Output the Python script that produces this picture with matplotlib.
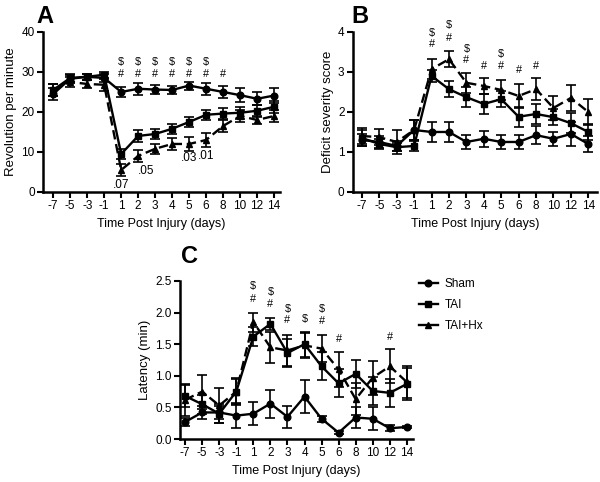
import numpy as np
import matplotlib.pyplot as plt
from matplotlib.lines import Line2D

plt.rcParams['font.family'] = ['Liberation Sans', 'DejaVu Sans']

# x axis categories
days = ["-7", "-5", "-3", "-1", "1", "2", "3", "4", "5", "6", "8", "10", "12", "14"]

# A: rotarod
a_sham = [24.5, 28.3, 28.8, 28.5, 25.0, 25.8, 25.6, 25.5, 26.6, 25.8, 25.0, 24.2, 23.3, 24.1]
a_sham_err = [1.5, 1.0, 0.8, 1.0, 1.2, 1.5, 1.2, 1.0, 1.0, 1.5, 1.5, 1.8, 1.6, 1.8]
a_tai = [25.5, 28.5, 28.8, 29.3, 9.5, 14.0, 14.5, 15.8, 17.5, 19.3, 19.6, 19.8, 20.3, 21.3]
a_tai_err = [1.5, 1.0, 0.8, 0.8, 1.2, 1.5, 1.3, 1.3, 1.3, 1.2, 1.3, 1.5, 1.5, 1.5]
a_hx = [25.5, 27.5, 27.0, 26.8, 5.5, 9.0, 10.8, 12.0, 12.0, 13.0, 16.5, 19.0, 18.0, 19.0]
a_hx_err = [1.5, 1.2, 1.0, 1.5, 1.5, 1.5, 1.3, 1.5, 1.8, 1.8, 1.5, 1.5, 1.0, 1.5]
a_dollar = [4, 5, 6, 7, 8, 9]
a_hash = [4, 5, 6, 7, 8, 9, 10]
a_pvals = [(4, ".07", 1.8, 0.0), (5, ".05", 5.3, 0.45), (8, ".03", 8.5, 0.0), (9, ".01", 9.0, 0.0)]

# B: deficit severity
b_sham = [1.3, 1.25, 1.15, 1.55, 1.5, 1.5, 1.25, 1.33, 1.25, 1.25, 1.42, 1.33, 1.45, 1.2]
b_sham_err = [0.15, 0.15, 0.12, 0.25, 0.25, 0.25, 0.18, 0.2, 0.18, 0.18, 0.22, 0.18, 0.3, 0.2]
b_tai = [1.35, 1.2, 1.12, 1.15, 2.9, 2.57, 2.37, 2.2, 2.32, 1.88, 1.95, 1.87, 1.72, 1.5]
b_tai_err = [0.2, 0.12, 0.1, 0.12, 0.15, 0.2, 0.25, 0.25, 0.2, 0.25, 0.25, 0.2, 0.25, 0.2]
b_hx = [1.4, 1.37, 1.25, 1.55, 3.07, 3.32, 2.73, 2.65, 2.55, 2.4, 2.57, 2.1, 2.35, 2.0]
b_hx_err = [0.2, 0.2, 0.3, 0.25, 0.25, 0.2, 0.25, 0.2, 0.25, 0.3, 0.27, 0.3, 0.33, 0.33]
b_marks = [(4, 3.98, 3.7), (5, 4.17, 3.85), (6, 3.58, 3.3), (7, None, 3.15),
           (8, 3.45, 3.15), (9, None, 3.05), (10, None, 3.15)]

# C: latency
c_sham = [0.27, 0.42, 0.42, 0.37, 0.40, 0.56, 0.35, 0.67, 0.32, 0.10, 0.34, 0.32, 0.17, 0.19]
c_sham_err = [0.06, 0.1, 0.1, 0.2, 0.18, 0.22, 0.17, 0.26, 0.05, 0.02, 0.17, 0.18, 0.05, 0.02]
c_tai = [0.68, 0.55, 0.40, 0.75, 1.62, 1.82, 1.36, 1.50, 1.15, 0.88, 1.03, 0.76, 0.73, 0.87]
c_tai_err = [0.18, 0.15, 0.15, 0.22, 0.15, 0.1, 0.22, 0.2, 0.22, 0.22, 0.22, 0.22, 0.22, 0.25]
c_hx = [0.62, 0.75, 0.53, 0.75, 1.85, 1.45, 1.40, 1.48, 1.43, 1.10, 0.63, 0.97, 1.15, 0.90]
c_hx_err = [0.25, 0.27, 0.27, 0.2, 0.15, 0.25, 0.25, 0.2, 0.22, 0.28, 0.25, 0.27, 0.27, 0.25]
c_marks = [(4, 2.42, 2.22), (5, 2.33, 2.14), (6, 2.06, 1.88), (7, 1.9, None),
           (8, 2.06, 1.86), (9, None, 1.58), (12, None, 1.62)]

x = np.arange(len(days))
fig = plt.figure(figsize=(6, 4.82), dpi=100)
MS = 4.8


def draw(ax, sham, sham_e, tai, tai_e, hx, hx_e, ylim, yticks, ylabel, xlim, yfmt=None):
    kw = dict(color='black', lw=1.7, capsize=3.5, elinewidth=1.2, capthick=1.2, ms=MS)
    ax.errorbar(x, hx, yerr=hx_e, marker='^', ls=(0, (4, 2)), **kw)
    ax.errorbar(x, tai, yerr=tai_e, marker='s', ls='-', **kw)
    ax.errorbar(x, sham, yerr=sham_e, marker='o', ls='-', **kw)
    ax.set_xlim(*xlim)
    ax.set_ylim(*ylim)
    ax.set_yticks(yticks)
    if yfmt:
        ax.set_yticklabels([yfmt % v for v in yticks])
    ax.set_xticks(x)
    ax.set_xticklabels(days)
    ax.spines['top'].set_visible(False)
    ax.spines['right'].set_visible(False)
    for s in ['left', 'bottom']:
        ax.spines[s].set_linewidth(1.8)
    ax.tick_params(width=1.5, length=4, labelsize=8.5, pad=2)
    ax.set_ylabel(ylabel, fontsize=9.5, labelpad=3)
    ax.set_xlabel('Time Post Injury (days)', fontsize=9, labelpad=4)


def marks(ax, items):
    for i, yd, yh in items:
        if yd is not None:
            ax.text(i, yd, '$', ha='center', va='center', fontsize=7.8)
        if yh is not None:
            ax.text(i, yh, '#', ha='center', va='center', fontsize=7.8)


# panel A
axA = fig.add_axes([0.0717, 0.6017, 0.395, 0.332])
draw(axA, a_sham, a_sham_err, a_tai, a_tai_err, a_hx, a_hx_err,
     (0, 40), [0, 10, 20, 30, 40], 'Revolution per minute', (-0.6, 13.35))
marks(axA, [(i, 32.6 if i in a_dollar else None, 29.6) for i in a_hash])
for i, t, yv, dx in a_pvals:
    axA.text(i + dx, yv, t, ha='center', va='center', fontsize=8.5)
fig.text(0.06, 0.966, 'A', fontsize=17, fontweight='bold', va='center')

# panel B
axB = fig.add_axes([0.588, 0.6017, 0.407, 0.332])
draw(axB, b_sham, b_sham_err, b_tai, b_tai_err, b_hx, b_hx_err,
     (0, 4), [0, 1, 2, 3, 4], 'Deficit severity score', (-0.52, 13.5))
marks(axB, b_marks)
fig.text(0.585, 0.966, 'B', fontsize=17, fontweight='bold', va='center')

# panel C
axC = fig.add_axes([0.3, 0.0892, 0.388, 0.328])
draw(axC, c_sham, c_sham_err, c_tai, c_tai_err, c_hx, c_hx_err,
     (0, 2.5), [0.0, 0.5, 1.0, 1.5, 2.0, 2.5], 'Latency (min)', (-0.3, 13.35), yfmt='%.1f')
marks(axC, c_marks)
fig.text(0.302, 0.468, 'C', fontsize=17, fontweight='bold', va='center')

h = [Line2D([], [], color='black', lw=1.7, marker=m, ms=MS) for m in ['o', 's', '^']]
fig.legend(h, ['Sham', 'TAI', 'TAI+Hx'], loc='upper left', bbox_to_anchor=(0.68, 0.445),
           frameon=False, fontsize=8.5, handlelength=1.6, handletextpad=0.6, labelspacing=0.75)

fig.savefig('out.png', dpi=100)
